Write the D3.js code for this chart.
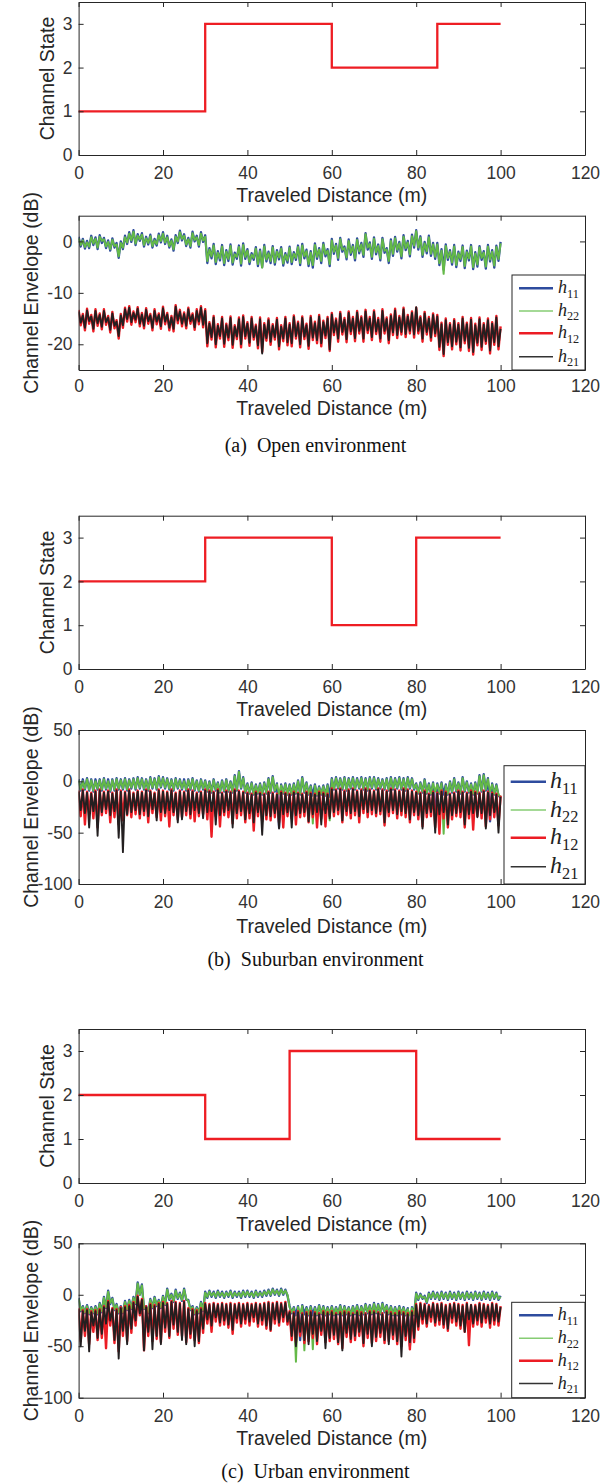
<!DOCTYPE html>
<html>
<head>
<meta charset="utf-8">
<script src="https://cdn.jsdelivr.net/npm/d3@7"></script>
<style>
  body { margin: 0; background: #fff; }
  svg { display: block; }
  .tick text { font-family: "Liberation Sans", Arial, sans-serif; font-size: 17.5px; fill: #333; }
  .lbl { font-family: "Liberation Sans", Arial, sans-serif; font-size: 19.5px; fill: #262626; }
  .cap { font-family: "Liberation Serif", "Times New Roman", serif; font-size: 20px; fill: #111; }
  .leg { font-family: "Liberation Serif", "Times New Roman", serif; fill: #222; }
</style>
</head>
<body>
<svg id="fig" width="616" height="1484"></svg>
<script>
// ---- tick values ----
const xTickValues = [0, 20, 40, 60, 80, 100, 120];
const stateTicks = [0, 1, 2, 3];
const openEnvTicks = [-20, -10, 0];
const wideEnvTicks = [-100, -50, 0, 50];

// ---- channel state (switch distance in m, state from there on) ----
const openSwitch = [0, 30, 60, 85, 100];
const openState = [1, 3, 2, 3, 3];
const subSwitch = [0, 30, 60, 80, 100];
const subState = [2, 3, 1, 3, 3];
const urbSwitch = [0, 30, 50, 80, 100];
const urbState = [2, 1, 3, 1, 1];

// ---- channel envelope (dB), one value every 0.5 m from 0 to 100 m ----
const sampleStep = 0.5;
const seriesNames = ["h11", "h22", "h12", "h21"];

const openH11 = [
  0.9, -1.0, 0.5, -1.4, 0.1, -1.3, 1.1, -0.7, 0.8, -1.5,
  1.2, -0.3, 0.7, -1.3, 0.2, -1.8, 0.6, -1.2, -0.3, -3.2,
  0.0, -1.5, 1.1, -0.5, 1.8, -0.1, 2.2, -0.7, 1.4, 0.1,
  1.6, -1.0, 0.9, -0.6, 1.3, -1.2, 0.5, -0.8, 1.5, -0.2,
  1.8, -0.5, 1.1, -1.2, 0.4, -1.8, 1.2, -0.3, 2.1, 0.2,
  1.4, -0.9, 0.7, -1.2, 1.9, 0.0, 1.1, -1.0, 1.8, -0.1,
  1.2, -4.2, -1.3, -3.3, -0.5, -4.4, -1.9, -3.7, -0.7, -4.6,
  -1.7, -3.8, -0.6, -4.5, -2.2, -3.4, -0.8, -4.7, -0.4, -3.4,
  -1.5, -4.4, -2.3, -3.6, -1.1, -4.8, -1.6, -5.0, -0.7, -3.9,
  -2.0, -4.2, -0.9, -4.5, -1.7, -3.5, -1.1, -4.7, -2.3, -4.1,
  -1.0, -4.4, -2.1, -3.6, -0.8, -4.6, -0.5, -3.3, -1.6, -4.8,
  -1.9, -5.1, -0.4, -3.4, -1.3, -4.2, -0.3, -2.9, -1.5, -4.8,
  0.5, -2.4, -0.5, -3.6, 0.7, -2.0, -1.0, -3.5, 0.4, -2.6,
  -0.7, -3.7, 0.6, -2.3, -0.3, -3.0, 1.6, -1.6, -0.2, -3.4,
  0.8, -2.5, -0.6, -3.7, 0.7, -2.2, -1.3, -4.2, 0.4, -2.8,
  0.9, -2.0, -0.1, -3.3, 1.2, -1.7, 0.1, -2.9, 1.3, -1.2,
  2.2, -1.6, 1.0, -3.0, -0.1, -2.3, 1.1, -2.8, -0.3, -3.4,
  -0.3, -4.6, -1.5, -5.5, -0.6, -3.6, -1.7, -4.5, -0.7, -5.0,
  -2.0, -3.8, -0.8, -5.2, -1.8, -3.7, -0.7, -5.4, -2.1, -4.9,
  -0.9, -3.6, -1.9, -5.3, -0.7, -3.9, -1.7, -5.1, -0.8, -3.8,
  -0.1
];
const openH22 = [
  0.6, -0.7, 0.2, -1.1, -0.2, -1.0, 0.8, -0.4, 0.5, -1.2,
  0.9, 0.1, 0.4, -1.0, -0.1, -1.5, 0.3, -0.9, -0.6, -2.9,
  -0.3, -1.2, 0.8, -0.2, 1.5, 0.2, 1.9, -0.4, 1.1, 0.4,
  1.3, -0.7, 0.6, -0.3, 1.0, -0.9, 0.2, -0.5, 1.2, 0.1,
  1.5, -0.2, 0.8, -0.9, 0.1, -1.5, 0.9, 0.0, 1.8, 0.5,
  1.1, -0.6, 0.4, -0.9, 1.6, 0.3, 0.8, -0.7, 1.5, 0.2,
  0.9, -3.8, -1.6, -2.9, -0.8, -4.0, -2.2, -3.3, -1.0, -4.2,
  -2.0, -3.4, -0.9, -4.1, -2.5, -3.0, -1.1, -4.3, -0.7, -3.0,
  -1.8, -4.0, -2.6, -3.2, -1.4, -4.4, -1.9, -5.1, -1.0, -3.5,
  -2.3, -3.8, -1.2, -4.1, -2.0, -3.1, -1.4, -4.3, -2.6, -3.7,
  -1.3, -4.0, -2.4, -3.2, -1.1, -4.2, -0.8, -2.9, -1.9, -4.4,
  -2.2, -4.6, -0.7, -3.0, -1.6, -3.8, -0.6, -2.5, -1.8, -4.4,
  0.2, -2.0, -0.8, -3.2, 0.4, -1.6, -1.3, -3.1, 0.1, -2.2,
  -1.0, -3.3, 0.3, -1.9, -0.6, -2.6, 1.4, -1.2, -0.5, -3.0,
  0.5, -2.1, -0.9, -3.3, 0.4, -1.8, -1.6, -3.8, 0.1, -2.4,
  0.6, -1.6, -0.4, -2.9, 0.9, -1.3, -0.2, -2.5, 1.0, -0.8,
  2.0, -1.2, 0.7, -2.6, -0.4, -1.9, 0.8, -2.4, -0.6, -3.0,
  -0.6, -4.2, -1.8, -6.3, -0.9, -3.2, -2.0, -4.1, -1.0, -4.6,
  -2.3, -3.4, -1.1, -4.8, -2.1, -3.3, -1.0, -5.0, -2.4, -4.5,
  -1.2, -3.2, -2.2, -4.9, -1.0, -3.5, -2.0, -4.7, -1.1, -3.4,
  -0.4
];
const openH12 = [
  -13.3, -16.3, -14.1, -17.3, -13.1, -16.0, -14.3, -17.5, -13.2, -16.4,
  -14.0, -17.1, -13.2, -16.2, -14.5, -17.7, -13.7, -16.9, -15.3, -18.9,
  -14.1, -16.8, -12.9, -15.6, -12.6, -16.2, -13.6, -15.7, -12.8, -16.5,
  -13.9, -16.9, -13.0, -16.0, -14.1, -17.3, -13.2, -16.1, -14.0, -17.0,
  -12.7, -16.1, -13.9, -17.3, -14.5, -17.5, -12.4, -15.9, -13.3, -16.5,
  -13.8, -16.9, -12.9, -16.0, -14.0, -17.2, -13.2, -16.1, -12.6, -16.7,
  -13.2, -20.4, -15.7, -19.1, -14.5, -20.6, -16.1, -18.9, -14.7, -20.5,
  -16.0, -19.2, -14.6, -20.7, -16.3, -19.0, -14.8, -20.6, -14.4, -18.9,
  -15.7, -20.3, -14.7, -19.1, -16.2, -20.8, -14.8, -21.5, -15.9, -19.3,
  -15.0, -20.1, -16.1, -19.1, -14.9, -21.0, -16.3, -19.4, -14.7, -20.2,
  -15.9, -20.4, -14.4, -18.9, -15.6, -20.6, -14.6, -19.0, -16.0, -20.9,
  -14.5, -19.2, -15.6, -19.8, -14.3, -20.4, -15.4, -18.8, -14.7, -21.3,
  -13.9, -18.2, -15.0, -19.5, -13.7, -18.1, -14.9, -19.6, -13.6, -18.0,
  -14.7, -19.4, -13.5, -17.9, -14.6, -19.5, -13.3, -17.8, -14.7, -19.2,
  -13.4, -18.0, -14.9, -19.5, -13.2, -17.9, -14.8, -19.8, -14.2, -18.2,
  -13.1, -18.8, -14.5, -18.1, -12.9, -18.6, -14.3, -17.9, -13.6, -18.7,
  -12.9, -17.9, -14.6, -19.5, -13.7, -18.1, -14.7, -19.3, -14.0, -18.4,
  -14.3, -21.1, -15.8, -22.3, -15.0, -20.1, -15.9, -21.0, -15.1, -20.0,
  -15.9, -21.2, -14.7, -19.8, -15.8, -21.3, -14.9, -22.0, -16.0, -20.2,
  -14.8, -21.1, -15.9, -19.9, -15.0, -21.8, -15.7, -20.1, -14.5, -21.0,
  -16.5
];
const openH21 = [
  -13.6, -15.8, -14.4, -16.8, -13.4, -15.5, -14.6, -17.0, -13.5, -15.9,
  -14.3, -16.6, -13.5, -15.7, -14.8, -17.2, -14.0, -16.4, -15.6, -18.4,
  -14.4, -16.3, -13.2, -15.1, -12.9, -15.7, -13.9, -15.2, -13.1, -16.0,
  -14.2, -16.4, -13.3, -15.5, -14.4, -16.8, -13.5, -15.6, -14.3, -16.5,
  -13.0, -15.6, -14.2, -16.8, -14.8, -17.0, -12.7, -15.4, -13.6, -16.0,
  -14.1, -16.4, -13.2, -15.5, -14.3, -16.7, -13.5, -15.6, -12.9, -16.2,
  -13.5, -19.8, -16.0, -18.6, -14.8, -20.0, -16.4, -18.4, -15.0, -19.9,
  -16.3, -18.7, -14.9, -20.1, -16.6, -18.5, -15.1, -20.0, -14.7, -18.4,
  -16.0, -19.7, -15.0, -18.6, -16.5, -20.2, -15.1, -21.8, -16.2, -18.8,
  -15.3, -19.5, -16.4, -18.6, -15.2, -20.4, -16.6, -18.9, -15.0, -19.6,
  -16.2, -19.8, -14.7, -18.4, -15.9, -20.0, -14.9, -18.5, -16.3, -20.3,
  -14.8, -18.7, -15.9, -19.2, -14.6, -19.8, -15.7, -18.3, -15.0, -21.0,
  -14.2, -17.7, -15.3, -18.9, -14.0, -17.6, -15.2, -19.0, -13.9, -17.5,
  -15.0, -18.8, -13.8, -17.4, -14.9, -18.9, -13.6, -17.3, -15.0, -18.6,
  -13.7, -17.5, -15.2, -18.9, -13.5, -17.4, -15.1, -19.2, -14.5, -17.7,
  -13.4, -18.2, -14.8, -17.6, -13.2, -18.0, -14.6, -17.4, -13.9, -18.1,
  -12.8, -17.4, -14.9, -18.9, -14.0, -17.6, -15.0, -18.7, -14.3, -17.9,
  -14.6, -20.5, -16.1, -21.9, -15.3, -19.6, -16.2, -20.4, -15.4, -19.5,
  -16.2, -20.6, -15.0, -19.3, -16.1, -20.7, -15.2, -21.5, -16.3, -19.7,
  -15.1, -20.5, -16.2, -19.4, -15.3, -21.2, -16.0, -19.6, -14.8, -20.4,
  -17.0
];

const subH11 = [
  2, -9, 2, -8, 3, -9, 2, -10, 2, -8,
  2, -9, 3, -8, 2, -10, 2, -9, 3, -8,
  2, -8, 3, -9, 2, -7, 3, -8, 4, -7,
  3, -8, 2, -9, 4, -7, 3, -8, 5, -6,
  4, -7, 3, -8, 2, -9, 3, -7, 2, -8,
  2, -9, 2, -8, 3, -9, 1, -10, 2, -8,
  1, -10, 0, -11, 2, -9, -1, -11, 1, -10,
  2, -10, 0, -11, 6, -9, 10, -7, 4, -11,
  -2, -12, -1, -13, -3, -12, -2, -13, -1, -12,
  3, -11, 5, -10, -2, -45, -3, -12, -2, -13,
  -3, -13, -2, -12, 1, -13, 4, -11, -1, -13,
  -4, -14, -3, -14, -5, -13, -4, -14, -3, -15,
  3, -8, 4, -7, 3, -8, 4, -9, 3, -7,
  4, -8, 3, -7, 4, -8, 3, -9, 4, -7,
  4, -8, 3, -7, 2, -8, 3, -9, 4, -8,
  3, -7, 4, -8, 3, -9, 4, -7, 3, -8,
  -2, -12, -1, -11, 2, -12, -2, -13, -1, -40,
  -2, -12, -1, -13, -3, -13, 0, -11, 3, -10,
  -1, -12, 4, -10, 0, -11, -2, -13, -1, -12,
  6, -10, 7, -9, 3, -39, -2, -13, -3, -14,
  -16
];
const subH22 = [
  1, -8, 0, -7, 2, -8, 1, -9, 0, -7,
  1, -8, 2, -7, 0, -9, 1, -8, 2, -7,
  1, -7, 2, -8, 1, -6, 2, -7, 3, -6,
  2, -7, 1, -8, 3, -6, 2, -7, 4, -5,
  3, -6, 2, -7, 1, -8, 2, -6, 1, -7,
  0, -8, 1, -7, 2, -8, 0, -9, 1, -7,
  0, -9, -1, -10, 1, -8, -2, -10, 0, -9,
  1, -9, -1, -10, 5, -8, 9, -6, 3, -10,
  -3, -11, -2, -12, -4, -11, -3, -12, -2, -11,
  2, -10, 4, -9, -3, -12, -4, -11, -3, -12,
  -4, -12, -3, -11, 0, -12, 3, -10, -2, -12,
  -5, -41, -4, -13, -6, -12, -5, -13, -4, -38,
  2, -7, 3, -6, 2, -7, 3, -8, 2, -6,
  3, -7, 2, -6, 3, -7, 2, -8, 3, -6,
  3, -7, 2, -6, 1, -7, 2, -8, 3, -7,
  2, -6, 3, -7, 2, -8, 3, -6, 2, -7,
  -3, -11, -2, -10, 1, -11, -3, -12, -2, -10,
  -3, -11, -2, -51, -4, -12, -1, -10, 2, -9,
  -2, -11, 3, -9, -1, -10, -3, -12, -2, -11,
  5, -9, 6, -8, 2, -10, -3, -12, -4, -13,
  -15
];
const subH12 = [
  -9, -34, -8, -42, -10, -31, -11, -36, -9, -45,
  -8, -33, -10, -31, -9, -40, -11, -35, -8, -42,
  -9, -38, -10, -33, -8, -35, -11, -32, -9, -36,
  -10, -33, -8, -40, -9, -31, -11, -35, -8, -38,
  -9, -34, -10, -44, -8, -33, -11, -37, -9, -35,
  -10, -33, -8, -36, -9, -39, -11, -34, -10, -32,
  -8, -37, -9, -54, -10, -34, -8, -44, -11, -33,
  -9, -35, -10, -41, -8, -36, -9, -33, -10, -40,
  -11, -36, -12, -48, -10, -34, -11, -39, -12, -37,
  -10, -38, -11, -35, -12, -40, -10, -45, -11, -34,
  -12, -36, -10, -42, -11, -35, -12, -34, -10, -40,
  -11, -35, -12, -45, -10, -36, -11, -44, -12, -34,
  -7, -34, -8, -32, -7, -40, -9, -33, -8, -36,
  -7, -33, -9, -40, -8, -31, -7, -35, -8, -32,
  -9, -34, -7, -32, -8, -43, -9, -34, -7, -31,
  -8, -36, -9, -33, -7, -35, -8, -40, -9, -33,
  -10, -37, -11, -44, -9, -35, -12, -34, -10, -45,
  -11, -51, -9, -36, -10, -45, -12, -37, -11, -34,
  -9, -35, -10, -45, -11, -36, -9, -47, -10, -34,
  -11, -36, -9, -44, -10, -37, -11, -35, -12, -43,
  -14
];
const subH21 = [
  -10, -28, -9, -31, -11, -45, -12, -29, -10, -53,
  -9, -30, -11, -27, -10, -33, -12, -29, -9, -55,
  -10, -69, -11, -32, -9, -30, -12, -28, -10, -32,
  -11, -29, -9, -34, -10, -27, -12, -38, -9, -30,
  -10, -31, -11, -28, -9, -30, -12, -40, -10, -37,
  -11, -29, -9, -32, -10, -28, -12, -31, -11, -36,
  -9, -30, -10, -29, -11, -42, -9, -33, -12, -30,
  -10, -28, -11, -45, -9, -31, -10, -29, -11, -37,
  -12, -31, -13, -40, -11, -30, -12, -52, -13, -33,
  -11, -34, -12, -31, -13, -46, -11, -32, -12, -30,
  -13, -45, -11, -33, -12, -31, -13, -30, -11, -39,
  -12, -32, -13, -30, -11, -42, -12, -31, -13, -36,
  -8, -30, -9, -28, -8, -38, -10, -29, -9, -31,
  -8, -29, -10, -34, -9, -27, -8, -30, -9, -28,
  -10, -31, -8, -29, -9, -40, -10, -30, -8, -28,
  -9, -32, -10, -29, -8, -31, -9, -37, -10, -30,
  -11, -33, -12, -46, -10, -31, -13, -30, -11, -50,
  -12, -32, -10, -30, -11, -42, -13, -33, -12, -31,
  -10, -30, -11, -42, -12, -32, -10, -31, -11, -35,
  -12, -31, -10, -46, -11, -33, -12, -30, -13, -50,
  -15
];

const urbH11 = [
  -3, -16, -11, -18, -10, -19, -12, -18, -11, -19,
  -8, -17, -2, -13, 4, -9, -3, -15, -9, -18,
  -11, -18, -6, -15, -5, -14, -2, -9, 12, 0,
  10, -14, -11, -18, -4, -13, -2, -11, -5, -13,
  -1, -10, 6, -5, 1, -7, 5, -4, 2, -6,
  6, -5, -5, -15, -11, -19, -12, -18, -7, -16,
  3, -3, 4, -2, 3, -3, 4, -2, 3, -3,
  3, -2, 4, -3, 3, -2, 3, -3, 4, -2,
  4, -2, 3, -3, 4, -2, 3, -2, 4, -1,
  5, -1, 6, 0, 5, -1, 6, 0, 5, -1,
  -11, -18, -12, -20, -11, -44, -10, -19, -12, -20,
  -11, -20, -12, -20, -10, -19, -11, -20, -12, -19,
  -11, -20, -12, -19, -10, -20, -11, -19, -12, -20,
  -11, -19, -10, -20, -11, -19, -9, -18, -10, -19,
  -8, -18, -9, -19, -8, -17, -10, -19, -11, -20,
  -12, -20, -11, -19, -12, -20, -13, -50, -12, -20,
  2, -5, 1, -4, -1, -8, 2, -4, 3, -4,
  2, -5, 3, -4, 2, -5, 3, -4, 2, -5,
  3, -4, 2, -5, 3, -4, 2, -5, 3, -4,
  2, -5, 3, -4, 2, -5, 3, -4, 2, -5,
  -1
];
const urbH22 = [
  -4, -15, -12, -17, -11, -18, -13, -17, -12, -18,
  -9, -16, -3, -12, 3, -8, -4, -14, -10, -17,
  -12, -17, -7, -14, -6, -13, -3, -8, 11, 0,
  9, -13, -12, -17, -5, -12, -3, -10, -6, -12,
  -2, -9, 5, -4, 0, -6, 4, -3, 1, -5,
  5, -4, -6, -14, -12, -18, -13, -17, -8, -15,
  2, -2, 3, -1, 2, -2, 3, -1, 2, -2,
  2, -1, 3, -2, 2, -1, 2, -2, 3, -1,
  3, -1, 2, -2, 3, -1, 2, -1, 3, 0,
  4, 0, 5, 1, 4, 0, 5, 1, 4, 0,
  -12, -17, -13, -65, -12, -18, -11, -54, -13, -19,
  -12, -53, -13, -19, -11, -18, -12, -19, -13, -18,
  -12, -19, -13, -18, -11, -19, -12, -18, -13, -19,
  -12, -18, -11, -19, -12, -18, -10, -17, -11, -18,
  -9, -17, -10, -18, -9, -16, -11, -18, -12, -19,
  -13, -19, -12, -18, -13, -19, -14, -20, -13, -19,
  1, -4, 0, -3, -2, -7, 1, -3, 2, -3,
  1, -4, 2, -3, 1, -4, 2, -3, 1, -4,
  2, -3, 1, -4, 2, -3, 1, -4, 2, -3,
  1, -4, 2, -3, 1, -4, 2, -3, 1, -4,
  -2
];
const urbH12 = [
  -13, -45, -15, -40, -14, -48, -16, -36, -15, -44,
  -14, -42, -11, -52, -6, -30, -13, -47, -14, -55,
  -12, -40, -11, -45, -10, -37, -7, -30, -1, -20,
  -4, -54, -11, -40, -9, -45, -10, -43, -8, -46,
  -7, -36, -8, -42, -6, -33, -7, -39, -8, -40,
  -6, -46, -13, -42, -14, -44, -15, -47, -13, -37,
  -8, -28, -9, -36, -8, -26, -9, -30, -8, -29,
  -9, -32, -8, -38, -9, -27, -8, -31, -9, -28,
  -8, -30, -9, -26, -8, -31, -9, -29, -8, -33,
  -7, -35, -8, -28, -7, -30, -8, -26, -7, -29,
  -16, -44, -17, -46, -16, -40, -18, -47, -17, -45,
  -16, -42, -17, -48, -18, -39, -16, -46, -17, -45,
  -16, -43, -18, -48, -17, -52, -16, -41, -17, -46,
  -18, -44, -16, -40, -17, -50, -18, -42, -16, -47,
  -16, -45, -17, -41, -18, -47, -16, -45, -17, -43,
  -18, -48, -16, -50, -17, -44, -18, -53, -16, -46,
  -9, -34, -8, -28, -9, -31, -10, -26, -8, -30,
  -9, -29, -8, -32, -10, -35, -9, -27, -8, -30,
  -9, -33, -10, -36, -8, -49, -10, -31, -10, -29,
  -8, -31, -9, -27, -10, -32, -8, -29, -9, -30,
  -11
];
const urbH21 = [
  -14, -50, -16, -35, -15, -55, -17, -30, -16, -42,
  -15, -38, -12, -28, -7, -25, -14, -44, -15, -62,
  -13, -35, -12, -48, -11, -33, -8, -25, -2, -18,
  -5, -54, -12, -36, -10, -53, -11, -40, -9, -48,
  -8, -32, -9, -40, -7, -29, -8, -36, -9, -44,
  -7, -48, -14, -38, -15, -50, -16, -45, -14, -33,
  -9, -24, -10, -30, -9, -22, -10, -27, -9, -25,
  -10, -29, -9, -34, -10, -23, -9, -28, -10, -24,
  -9, -26, -10, -22, -9, -28, -10, -25, -9, -30,
  -8, -34, -9, -24, -8, -27, -9, -22, -8, -26,
  -17, -40, -18, -50, -17, -36, -19, -44, -18, -48,
  -17, -38, -18, -45, -19, -35, -17, -52, -18, -42,
  -17, -39, -19, -46, -18, -54, -17, -37, -18, -43,
  -19, -40, -17, -36, -18, -47, -19, -38, -17, -50,
  -17, -41, -18, -37, -19, -44, -17, -48, -18, -39,
  -19, -45, -17, -60, -18, -40, -19, -46, -17, -42,
  -10, -31, -9, -24, -10, -28, -11, -22, -9, -27,
  -10, -25, -9, -29, -11, -33, -10, -23, -9, -26,
  -10, -30, -11, -36, -9, -24, -10, -28, -11, -25,
  -9, -27, -10, -23, -11, -28, -9, -25, -10, -26,
  -12
];

// ---- drawing ----
const svg = d3.select("#fig");
const xLeft = 78.6, xRight = 585;
const x = d3.scaleLinear().domain([0, 120]).range([xLeft, xRight]);
const axisColor = "#262626";
const seriesColor = { h11: "#2e4c9e", h22: "#64b948", h12: "#ec1c24", h21: "#231f20" };
// thick strokes so the dense fading trace reads as a solid band
const seriesWidth = { h11: 2.3, h22: 2.0, h12: 2.4, h21: 1.9 };
const legendColor = { h11: "#2e4c9e", h22: "#86cc73", h12: "#ec1c24", h21: "#333333" };
const legendWidth = { h11: 2.4, h22: 1.4, h12: 2.4, h21: 1.4 };
let clipId = 0;

function drawFrame(y, yTicks, top, bottom, xLabelY, yLabel, yLabelX, pad) {
  const g = svg.append("g");
  g.append("g").attr("transform", `translate(0,${bottom})`)
    .call(d3.axisBottom(x).tickValues(xTickValues).tickSizeInner(-5).tickSizeOuter(0)
      .tickPadding(pad).tickFormat(d => String(d)));
  g.append("g").attr("transform", `translate(0,${top})`)
    .call(d3.axisTop(x).tickValues(xTickValues).tickSizeInner(-5).tickSizeOuter(0).tickFormat(""));
  g.append("g").attr("transform", `translate(${xLeft},0)`)
    .call(d3.axisLeft(y).tickValues(yTicks).tickSizeInner(-5).tickSizeOuter(0)
      .tickPadding(6).tickFormat(d => String(d)));
  g.append("g").attr("transform", `translate(${xRight},0)`)
    .call(d3.axisRight(y).tickValues(yTicks).tickSizeInner(-5).tickSizeOuter(0).tickFormat(""));
  g.selectAll(".domain, .tick line").attr("stroke", axisColor).attr("stroke-width", 1);

  svg.append("text").attr("class", "lbl")
    .attr("x", (xLeft + xRight) / 2).attr("y", xLabelY)
    .attr("text-anchor", "middle").text("Traveled Distance (m)");
  svg.append("text").attr("class", "lbl")
    .attr("transform", `translate(${yLabelX},${(top + bottom) / 2}) rotate(-90)`)
    .attr("text-anchor", "middle").text(yLabel);
}

function statePanel(switchAt, states, top, bottom, xLabelY) {
  const y = d3.scaleLinear().domain([0, 3.5]).range([bottom, top]);
  const pts = switchAt.map((d, i) => [d, states[i]]);
  const line = d3.line().x(d => x(d[0])).y(d => y(d[1])).curve(d3.curveStepAfter);
  svg.append("path").datum(pts)
    .attr("d", line).attr("fill", "none")
    .attr("stroke", "#ee1d23").attr("stroke-width", 2.3);
  drawFrame(y, stateTicks, top, bottom, xLabelY, "Channel State", 54, 12);
}

function envPanel(series, yDomain, yTicks, top, bottom, xLabelY, pad, legend) {
  const y = d3.scaleLinear().domain(yDomain).range([bottom, top]);
  const id = "clip" + (clipId++);
  svg.append("clipPath").attr("id", id).append("rect")
    .attr("x", xLeft).attr("y", top).attr("width", xRight - xLeft).attr("height", bottom - top);
  const line = d3.line().x((d, i) => x(i * sampleStep)).y(d => y(d));
  const plot = svg.append("g").attr("clip-path", `url(#${id})`);
  seriesNames.forEach(name => {
    plot.append("path").datum(series[name])
      .attr("d", line).attr("fill", "none")
      .attr("stroke", seriesColor[name]).attr("stroke-width", seriesWidth[name])
      .attr("stroke-linejoin", "round");
  });
  drawFrame(y, yTicks, top, bottom, xLabelY, "Channel Envelope (dB)", 38, pad);

  // legend
  const lg = svg.append("g");
  lg.append("rect").attr("x", legend.x).attr("y", legend.y)
    .attr("width", xRight - legend.x).attr("height", bottom - legend.y)
    .attr("fill", "#fff").attr("stroke", axisColor).attr("stroke-width", 1);
  seriesNames.forEach((name, i) => {
    const ry = legend.rows[i];
    lg.append("line").attr("x1", legend.x1).attr("x2", legend.x2)
      .attr("y1", ry).attr("y2", ry)
      .attr("stroke", legendColor[name]).attr("stroke-width", legendWidth[name]);
    const t = lg.append("text").attr("class", "leg")
      .attr("x", legend.tx).attr("y", ry + legend.size * 0.28);
    t.append("tspan").attr("font-style", "italic").attr("font-size", legend.size).text("h");
    t.append("tspan").attr("font-size", legend.size * 0.68)
      .attr("dy", legend.size * 0.24).text(name.slice(1));
  });
}

function caption(text, yBase) {
  svg.append("text").attr("class", "cap")
    .attr("x", 315.5).attr("y", yBase).attr("text-anchor", "middle").text(text);
}

// (a) open
statePanel(openSwitch, openState, 2, 155, 202);
envPanel({ h11: openH11, h22: openH22, h12: openH12, h21: openH21 },
  [-25, 5], openEnvTicks, 215.7, 370, 415, 10,
  { x: 512, y: 275, x1: 519, x2: 553, tx: 558, size: 18, rows: [288.3, 311, 333.3, 356.7] });
caption("(a)\u00a0\u00a0Open environment", 451.5);

// (b) suburban
statePanel(subSwitch, subState, 515.7, 669, 716);
envPanel({ h11: subH11, h22: subH22, h12: subH12, h21: subH21 },
  [-100, 50], wideEnvTicks, 730, 884, 933, 12,
  { x: 504, y: 765.7, x1: 510.7, x2: 546, tx: 550, size: 24, rows: [781.7, 810, 837.7, 866.7] });
caption("(b)\u00a0\u00a0Suburban environment", 965.5);

// (c) urban
statePanel(urbSwitch, urbState, 1029, 1183, 1230.5);
envPanel({ h11: urbH11, h22: urbH22, h12: urbH12, h21: urbH21 },
  [-100, 50], wideEnvTicks, 1243.3, 1397.7, 1445, 12,
  { x: 511.7, y: 1302.3, x1: 519, x2: 553, tx: 557.7, size: 18, rows: [1315.3, 1338.3, 1360.7, 1383.5] });
caption("(c)\u00a0\u00a0Urban environment", 1477.5);
</script>
</body>
</html>
